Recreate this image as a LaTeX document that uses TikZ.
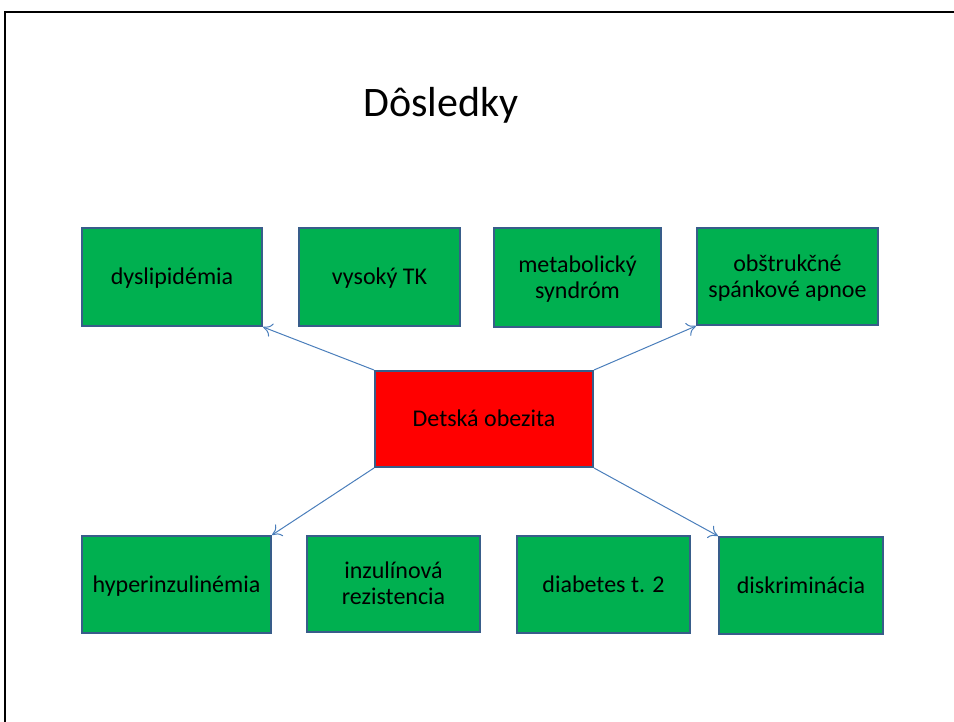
\documentclass[tikz,border=0pt]{standalone}
\usepackage{fontspec}
\setmainfont{Carlito}
\usetikzlibrary{arrows.meta}
\definecolor{boxgreen}{HTML}{00B050}
\definecolor{boxred}{HTML}{FF0000}
\definecolor{boxline}{HTML}{385D8A}
\definecolor{arrowblue}{HTML}{4A7EBB}
\begin{document}
\begin{tikzpicture}[x=1pt,y=-1pt,
  box/.style={draw=boxline,line width=2pt,fill=boxgreen,align=center,
    font=\fontsize{24}{26}\selectfont,inner sep=0pt},
  oneline/.style={text height=19pt,text depth=4pt},
  twoline/.style={text depth=1pt},
  conn/.style={draw=arrowblue,line width=1pt,-{To[length=9pt,width=14pt]}}]
\useasboundingbox (0,0) rectangle (954,722);
\draw[line width=2pt] (5,722) -- (5,12) -- (954,12);
\node[font=\fontsize{42}{50}\selectfont] (title) at (441,105) {Dôsledky};
\node[box,oneline,minimum width=180pt,minimum height=98pt] (dys) at (172,277) {dyslipidémia};
\node[box,oneline,minimum width=161pt,minimum height=98pt] (tk) at (379.5,277) {vysoký TK};
\node[box,twoline,minimum width=167pt,minimum height=99pt] (met) at (577.5,277.5) {metabolický\\syndróm};
\node[box,twoline,minimum width=181pt,minimum height=97pt] (obs) at (787.5,276.5) {obštrukčné\\spánkové apnoe};
\node[box,oneline,fill=boxred,minimum width=218pt,minimum height=96pt] (det) at (484,419) {Detská obezita};
\node[box,oneline,minimum width=189pt,minimum height=97pt] (hyp) at (176.5,584.5) {hyperinzulinémia};
\node[box,twoline,minimum width=173pt,minimum height=96pt] (inz) at (393.5,584) {inzulínová\\rezistencia};
\node[box,oneline,minimum width=173pt,minimum height=97pt] (dia) at (603.5,584.5) {diabetes t. 2};
\node[box,oneline,minimum width=164pt,minimum height=97pt] (dis) at (801,585.5) {diskriminácia};
\draw[conn] (det.north west) -- (dys.south east);
\draw[conn] (det.north east) -- (obs.south west);
\draw[conn] (det.south west) -- (hyp.north east);
\draw[conn] (det.south east) -- (dis.north west);
\end{tikzpicture}
\end{document}
